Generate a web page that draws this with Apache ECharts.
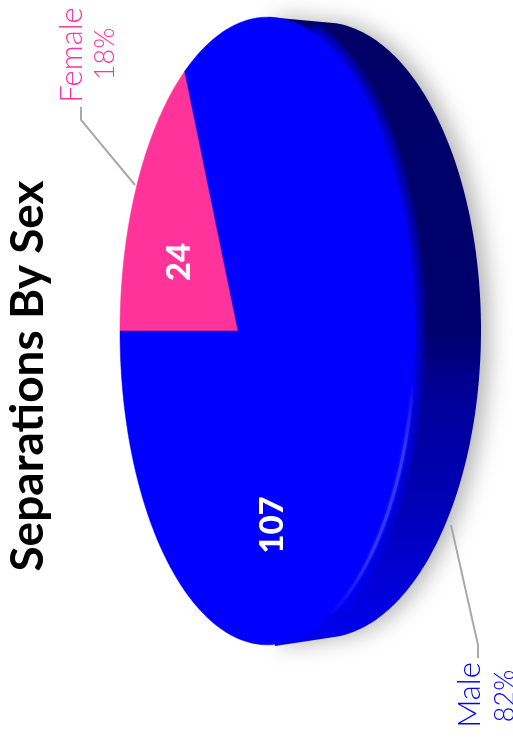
<!DOCTYPE html>
<html>
<head>
<meta charset="utf-8">
<style>html,body{margin:0;padding:0;background:#fff}#c{width:513px;height:744px}</style>
<script src="https://cdn.jsdelivr.net/npm/echarts@6/dist/echarts.min.js"></script>
</head>
<body>
<div id="c"></div>
<script>
const titleText = "Separations By Sex";
const categories = ["Female", "Male"];
const values = [24, 107];
const sliceColors = ["#ff3399", "#0000ff"];

// View of the tilted disc (the whole chart is turned a quarter turn).
const view = {cx: 238, cy: 331, s: 141.6, k: 0.2, c: 307.5};
const back = {cx: 322, cy: 330, rx: 159, ry: 308};
const total = values.reduce((a, b) => a + b, 0);

function project(deg) {
  const t = deg * Math.PI / 180, x = Math.cos(t), y = Math.sin(t), w = 1 - view.k * x;
  return [view.cx + view.s * x / w, view.cy - view.c * y / w];
}
function backPoint(deg) {
  const t = deg * Math.PI / 180;
  return [back.cx + back.rx * Math.cos(t), back.cy - back.ry * Math.sin(t)];
}
function arc(fn, from, to) {
  const pts = [], n = Math.max(2, Math.ceil(Math.abs(to - from)));
  for (let i = 0; i <= n; i++) pts.push(fn(from + (to - from) * i / n));
  return pts;
}
// Slices run from the left of the disc, clockwise on screen.
function sliceAngles(i) {
  let before = 0;
  for (let j = 0; j < i; j++) before += values[j];
  return [180 - before / total * 360, 180 - (before + values[i]) / total * 360];
}
const labelSpec = [
  {value: [179, 262], name: [72, 55], pct: [105, 54], line: [[81, 107], [81, 120], [135, 185]]},
  {value: [272, 525], name: [470, 695], pct: [505, 696], line: [[478, 658], [478, 645], [451, 525]]}
];

function renderSide() {
  const outer = arc(backPoint, 85, -85);
  const pts = [[268, 17], ...outer, [275, 646]];
  const gradient = new echarts.graphic.LinearGradient(0, 0, 0, 1, [
    {offset: 0, color: "#000066"}, {offset: 0.5, color: "#00006e"},
    {offset: 0.6, color: "#000098"}, {offset: 0.78, color: "#0000b8"}, {offset: 0.95, color: "#0000e6"}, {offset: 1, color: "#0000f0"}
  ]);
  const rim = arc(project, 60, -50);
  const rimWidths = [22, 18, 14, 10, 6];
  return {type: "group", children: [
    {type: "polygon", shape: {points: pts},
      style: {fill: gradient, shadowBlur: 22, shadowColor: "rgba(0,0,0,0.3)", shadowOffsetX: 8, shadowOffsetY: 0}},
    ...rimWidths.map(w => ({type: "polyline", shape: {points: rim},
      style: {fill: null, stroke: "rgba(0,0,255,0.2)", lineWidth: w, lineCap: "round"}})),
  ]};
}

function renderSlice(params, api) {
  const i = params.dataIndex, v = api.value(0);
  const [a0, a1] = sliceAngles(i);
  const spec = labelSpec[i];
  const pct = Math.round(v / total * 100) + "%";
  const text = (pos, str, font, fill) => ({type: "text", x: pos[0], y: pos[1], rotation: Math.PI / 2,
    style: {text: str, fill, font, align: "center", verticalAlign: "middle"}});
  return {type: "group", children: [
    {type: "polygon", shape: {points: [[view.cx, view.cy], ...arc(project, a0, a1)]},
      style: {fill: sliceColors[i], stroke: sliceColors[i], lineWidth: 0.5}},
    {type: "polyline", shape: {points: spec.line}, style: {fill: null, stroke: "#a9a9a9", lineWidth: 2}},
    text(spec.value, String(v), "900 33px Lato", "#fff"),
    text(spec.name, categories[i], "300 31px Lato", sliceColors[i]),
    text(spec.pct, pct, "300 27px Lato", sliceColors[i])
  ]};
}

function renderHighlight() {
  return {type: "polyline", shape: {points: arc(project, -8, -55)},
    style: {fill: null, lineWidth: 3, opacity: 0.75,
      stroke: new echarts.graphic.LinearGradient(0, 0, 0, 1, [
        {offset: 0, color: "rgba(60,60,255,0)"}, {offset: 0.3, color: "#3e3eff"},
        {offset: 0.7, color: "#3e3eff"}, {offset: 1, color: "rgba(60,60,255,0)"}]),
      shadowBlur: 3, shadowColor: "#3e3eff"}};
}

const chart = echarts.init(document.getElementById("c"), null, {renderer: "canvas"});
chart.setOption({
  animation: false,
  backgroundColor: "#fff",
  graphic: [{type: "text", x: 28, y: 376, rotation: Math.PI / 2, z: 10,
    style: {text: titleText, fill: "#000", font: "bold 46px Lato", align: "center", verticalAlign: "middle"}}],
  series: [
    {type: "custom", coordinateSystem: "none", data: [[total]], renderItem: renderSide, silent: true, z: 1},
    {type: "custom", coordinateSystem: "none", data: values.map(v => [v]), encode: {value: 0},
      renderItem: renderSlice, silent: true, z: 2},
    {type: "custom", coordinateSystem: "none", data: [[total]], renderItem: renderHighlight, silent: true, z: 3}
  ]
});
</script>
</body>
</html>
